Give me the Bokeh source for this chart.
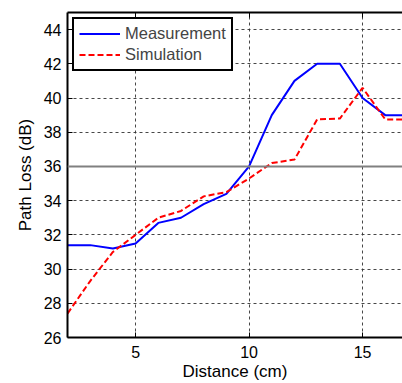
from bokeh.plotting import figure
from bokeh.models import Range1d, LinearAxis, FixedTicker, Span, Legend, LegendItem
from bokeh.embed import file_html
from bokeh.resources import INLINE

distance = [2, 3, 4, 5, 6, 7, 8, 9, 10, 11, 12, 13, 14, 15, 16, 17]
measurement = [31.4, 31.4, 31.2, 31.5, 32.7, 33.0, 33.8, 34.4, 36.0, 39.0, 41.0, 42.0, 42.0, 40.0, 39.0, 39.0]
simulation = [27.4, 29.3, 31.0, 32.0, 33.0, 33.4, 34.25, 34.5, 35.3, 36.2, 36.4, 38.75, 38.8, 40.6, 38.75, 38.75]
x_ticks = [5, 10, 15]
y_ticks = [26, 28, 30, 32, 34, 36, 38, 40, 42, 44]

FONT = "Liberation Sans"

p = figure(width=402, height=383, output_backend="svg", toolbar_location=None,
           x_range=Range1d(2, 16.76), y_range=Range1d(26, 45),
           min_border_left=67, min_border_right=0, min_border_top=12, min_border_bottom=45)
p.outline_line_color = None
p.background_fill_color = "white"
p.border_fill_color = "white"

for ax in (p.xaxis[0], p.yaxis[0]):
    ax.axis_line_width = 2
    ax.axis_line_color = "black"
    ax.major_tick_in = 5
    ax.major_tick_out = 0
    ax.minor_tick_in = 0
    ax.minor_tick_out = 0
    ax.major_tick_line_color = "black"
    ax.major_label_text_font = FONT
    ax.major_label_text_font_size = "16px"
    ax.major_label_text_color = "black"
    ax.axis_label_text_font = FONT
    ax.axis_label_text_font_size = "17px"
    ax.axis_label_text_font_style = "normal"
    ax.axis_label_text_color = "black"

p.xaxis.ticker = FixedTicker(ticks=x_ticks)
p.yaxis.ticker = FixedTicker(ticks=y_ticks)
p.xaxis.axis_label = "Distance (cm)"
p.yaxis.axis_label = "Path Loss (dB)"
p.xaxis.major_label_standoff = 8
p.yaxis.major_label_standoff = 6
p.xaxis.axis_label_standoff = 1
p.yaxis.axis_label_standoff = 6

top = LinearAxis(ticker=FixedTicker(ticks=x_ticks), major_label_text_font_size="0px",
                 axis_line_width=2, major_tick_in=5, major_tick_out=0,
                 minor_tick_in=0, minor_tick_out=0)
top.major_label_text_alpha = 0
p.add_layout(top, "above")

for g in (p.xgrid[0], p.ygrid[0]):
    g.grid_line_color = "#333333"
    g.grid_line_dash = "3 3"
    g.grid_line_width = 1
    g.grid_line_alpha = 0.9
p.xgrid.ticker = FixedTicker(ticks=x_ticks)
p.ygrid.ticker = FixedTicker(ticks=y_ticks)

p.add_layout(Span(location=36, dimension="width", line_color="#808080", line_width=2))

r1 = p.line(distance, measurement, line_color="#0000ff", line_width=2)
r2 = p.line(distance, simulation, line_color="#ff0000", line_width=2, line_dash="6 3")

legend = Legend(items=[LegendItem(label="Measurement", renderers=[r1]),
                       LegendItem(label="Simulation", renderers=[r2])],
                location="top_left")
legend.margin = 5
legend.padding = 5
legend.spacing = 2
legend.glyph_width = 41
legend.glyph_height = 19
legend.label_height = 19
legend.label_standoff = 5
legend.label_text_font = FONT
legend.label_text_font_size = "16.5px"
legend.border_line_color = "black"
legend.border_line_width = 2
legend.border_line_alpha = 1
legend.background_fill_color = "white"
legend.background_fill_alpha = 1
p.add_layout(legend, "center")

open("out.html", "w").write(file_html(p, INLINE))
